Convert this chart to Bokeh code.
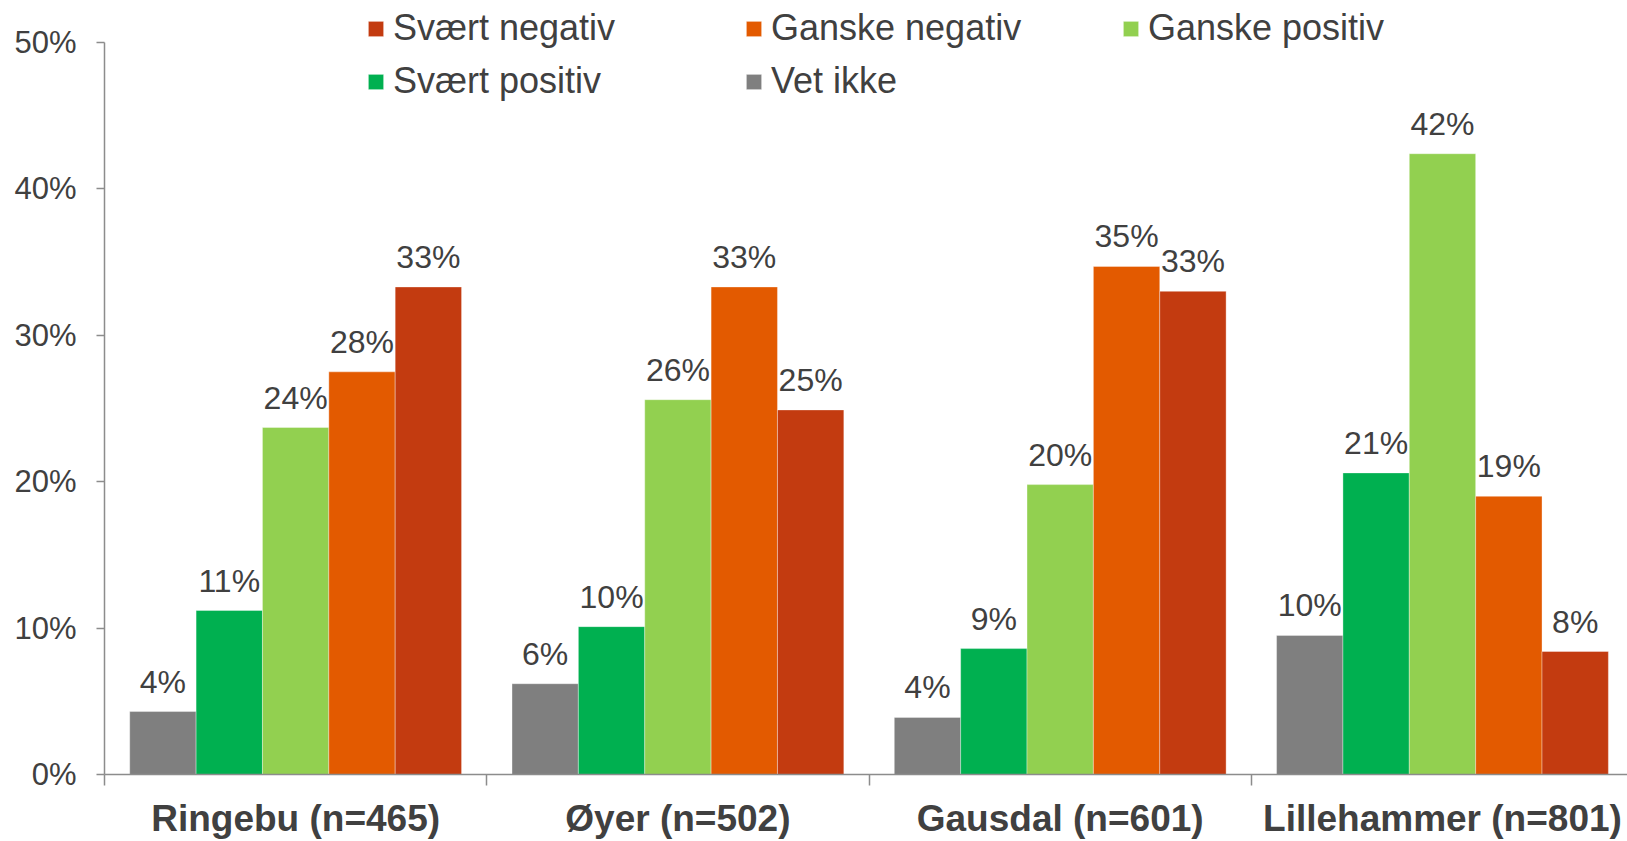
from bokeh.plotting import figure
from bokeh.models import (ColumnDataSource, Range1d, FixedTicker, Legend, LegendItem,
                          PrintfTickFormatter)
from bokeh.transform import dodge
from bokeh.core.properties import value
from bokeh.embed import file_html
from bokeh.resources import INLINE

# ---- data ----
categories = ["Ringebu (n=465)", "Øyer (n=502)", "Gausdal (n=601)", "Lillehammer (n=801)"]
series_names = ["Vet ikke", "Svært positiv", "Ganske positiv", "Ganske negativ", "Svært negativ"]
vet_ikke = [4.3, 6.2, 3.9, 9.5]
svaert_positiv = [11.2, 10.1, 8.6, 20.6]
ganske_positiv = [23.7, 25.6, 19.8, 42.4]
ganske_negativ = [27.5, 33.3, 34.7, 19.0]
svaert_negativ = [33.3, 24.9, 33.0, 8.4]
y_ticks = [0, 10, 20, 30, 40, 50]

series_values = [vet_ikke, svaert_positiv, ganske_positiv, ganske_negativ, svaert_negativ]
colors = ["#7F7F7F", "#00B050", "#92D050", "#E35A00", "#C33B10"]

FONT = "Liberation Sans"
TXT = "#404040"
AXIS = "#8C8C8C"

# frame spans to the top of the page so the legend (partly above 50%) is not clipped;
# the y axis itself is bounded to 0..50
p = figure(width=1627, height=841, output_backend="svg", toolbar_location=None,
           x_range=Range1d(0, 3.984), y_range=Range1d(0, 52.865),
           min_border_left=104, min_border_top=0, min_border_bottom=66, min_border_right=0)
p.outline_line_color = None
p.xgrid.grid_line_color = None
p.ygrid.grid_line_color = None
p.background_fill_color = "white"

cat_x = [i + 0.5 for i in range(len(categories))]
bar_w = 0.1736
renderers = {}
for k, (name, vals, col) in enumerate(zip(series_names, series_values, colors)):
    src = ColumnDataSource(dict(x=cat_x, y=vals, label=[f"{int(v + 0.5)}%" for v in vals]))
    off = (k - 2) * bar_w
    r = p.vbar(x=dodge("x", off), top="y", width=bar_w, source=src,
               fill_color=col, line_color="white", line_alpha=0.35, line_width=1)
    renderers[name] = r
    p.text(x=dodge("x", off), y="y", text="label", source=src,
           text_font=value(FONT), text_font_size="32px", text_color=TXT,
           text_align="center", text_baseline="alphabetic", y_offset=-30)

# y axis
ya = p.yaxis[0]
ya.ticker = FixedTicker(ticks=y_ticks)
ya.bounds = (0, 50)
ya.formatter = PrintfTickFormatter(format="%d%%")
ya.axis_line_color = AXIS
ya.axis_line_width = 1.5
ya.major_tick_line_color = AXIS
ya.major_tick_line_width = 1.5
ya.major_tick_out = 8
ya.major_tick_in = 0
ya.minor_tick_line_color = None
ya.major_label_text_font = FONT
ya.major_label_text_font_size = "31px"
ya.major_label_text_color = TXT
ya.major_label_standoff = 20

# x axis
xa = p.xaxis[0]
xa.ticker = FixedTicker(ticks=cat_x, minor_ticks=[0, 1, 2, 3])
xa.major_label_overrides = {x: c for x, c in zip(cat_x, categories)}
xa.axis_line_color = AXIS
xa.axis_line_width = 1.5
xa.major_tick_line_color = None
xa.major_tick_out = 0
xa.major_tick_in = 0
xa.minor_tick_line_color = AXIS
xa.minor_tick_line_width = 1.5
xa.minor_tick_out = 11
xa.minor_tick_in = 0
xa.major_label_text_font = FONT
xa.major_label_text_font_size = "37px"
xa.major_label_text_font_style = "bold"
xa.major_label_text_color = TXT
xa.major_label_standoff = 12

# legend (one per item to place them like the original)
legend_spec = [
    ("Svært negativ", (262, 725)),
    ("Ganske negativ", (640, 725)),
    ("Ganske positiv", (1017, 725)),
    ("Svært positiv", (262, 672)),
    ("Vet ikke", (640, 672)),
]
for name, loc in legend_spec:
    lg = Legend(items=[LegendItem(label=name, renderers=[renderers[name]])], location=loc,
                background_fill_alpha=0, border_line_color=None, padding=0, margin=0,
                spacing=0, glyph_width=19, glyph_height=19, label_standoff=8,
                label_text_font=FONT, label_text_font_size="36px", label_text_color=TXT)
    p.add_layout(lg, "center")

open("out.html", "w").write(file_html(p, INLINE))
